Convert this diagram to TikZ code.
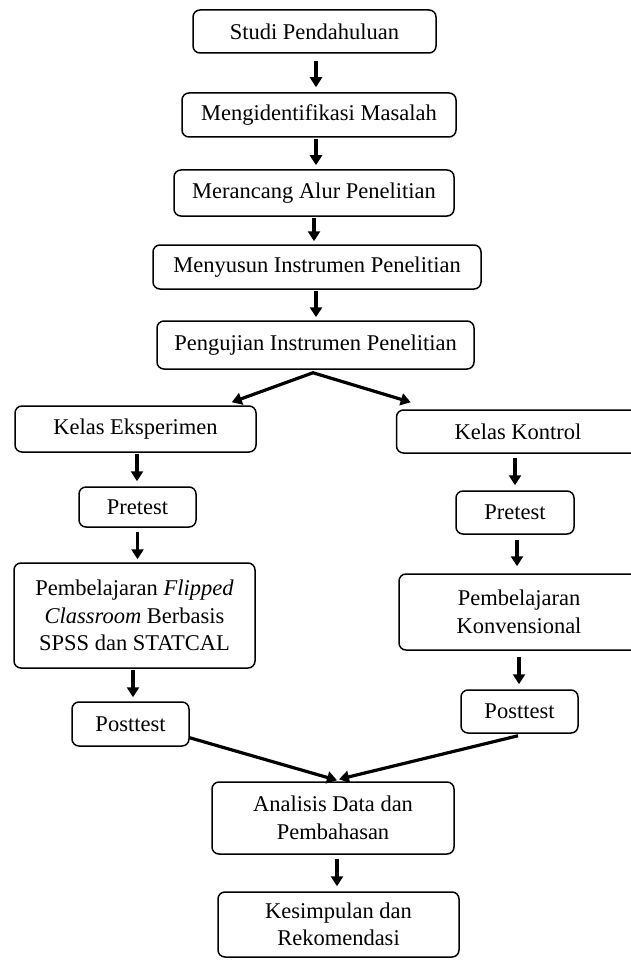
\documentclass[tikz,border=0pt]{standalone}
\usepackage{fontspec}
\setmainfont{Liberation Serif}
\usetikzlibrary{arrows.meta}
\begin{document}
\begin{tikzpicture}[x=1pt,y=-1pt,
  box/.style={draw, line width=1.5pt, rounded corners=7pt, align=center, inner sep=0pt,
    font=\fontsize{22.5}{27.5}\selectfont},
  arr/.style={line width=3.2pt, -{Triangle[length=10pt,width=12pt]}},
  arrtwo/.style={line width=3.2pt, line join=miter, {Triangle[length=10pt,width=12pt]}-{Triangle[length=10pt,width=12pt]}}]
\useasboundingbox (0,0) rectangle (630,960);
\node[box, minimum width=243pt, minimum height=43pt] (b1) at (314.5,31.5) {Studi Pendahuluan};
\node[box, minimum width=274pt, minimum height=44pt] (b2) at (319,115) {Mengidentifikasi Masalah};
\node[box, minimum width=280pt, minimum height=46pt] (b3) at (314,193) {Merancang Alur Penelitian};
\node[box, minimum width=328pt, minimum height=44pt] (b4) at (317,267) {Menyusun Instrumen Penelitian};
\node[box, minimum width=317pt, minimum height=48pt] (b5) at (315.5,345) {Pengujian Instrumen Penelitian};
\node[box, minimum width=241pt, minimum height=46pt] (ke) at (135.5,429) {Kelas Eksperimen};
\node[box, minimum width=243pt, minimum height=43pt] (kk) at (518,431.5) {Kelas Kontrol};
\node[box, minimum width=117pt, minimum height=40pt] (pre1) at (137.5,507) {Pretest};
\node[box, minimum width=118pt, minimum height=43pt] (pre2) at (515,512.5) {Pretest};
\node[box, minimum width=241pt, minimum height=105pt] (fl) at (134.5,615.5) {Pembelajaran \textit{Flipped}\\\textit{Classroom} Berbasis\\SPSS dan STATCAL};
\node[box, minimum width=240pt, minimum height=76pt] (kv) at (519,612) {Pembelajaran\\Konvensional};
\node[box, minimum width=117pt, minimum height=44pt] (post1) at (130.5,724) {Posttest};
\node[box, minimum width=117pt, minimum height=43pt] (post2) at (519.5,711.5) {Posttest};
\node[box, minimum width=242pt, minimum height=72pt] (an) at (333,818) {Analisis Data dan\\Pembahasan};
\node[box, minimum width=241pt, minimum height=65pt] (ks) at (338.5,924.5) {Kesimpulan dan\\Rekomendasi};
% vertical arrows
\draw[arr] ([xshift=1.5pt,yshift=-7pt]b1.south) -- ([xshift=1.5pt,yshift=5pt]b1.south |- b2.north);
\draw[arr] ([xshift=-3pt,yshift=-1pt]b2.south) -- ([xshift=-3pt,yshift=4pt]b2.south |- b3.north);
\draw[arr] ([yshift=-1pt]b3.south) -- ([yshift=3pt]b3.south |- b4.north);
\draw[arr] ([xshift=-1pt,yshift=-1pt]b4.south) -- ([xshift=-1pt,yshift=3pt]b4.south |- b5.north);
% split
\coordinate (apex) at ([xshift=-2.5pt,yshift=-3pt]b5.south);
\draw[arrtwo] ([xshift=-25pt,yshift=3pt]ke.north east) -- (apex) -- ([xshift=15pt,yshift=7pt]kk.north west);
% left column
\draw[arr] ([xshift=1.5pt,yshift=-1pt]ke.south) -- ([xshift=1.5pt,yshift=5pt]ke.south |- pre1.north);
\draw[arr] ([yshift=-4pt]pre1.south) -- ([yshift=3pt]pre1.south |- fl.north);
\draw[arr] ([xshift=-1.5pt,yshift=-1pt]fl.south) -- ([xshift=-1.5pt,yshift=4pt]fl.south |- post1.north);
% right column
\draw[arr] ([xshift=-3pt,yshift=-4pt]kk.south) -- ([xshift=-3pt,yshift=5pt]kk.south |- pre2.north);
\draw[arr] ([xshift=2pt,yshift=-5pt]pre2.south) -- ([xshift=2pt,yshift=7pt]pre2.south |- kv.north);
\draw[arr] ([yshift=-6pt]kv.south) -- ([yshift=5pt]kv.south |- post2.north);
% converge
\draw[arr] ([yshift=9pt]post1.south east) -- ([xshift=4pt,yshift=1pt]an.north);
\draw[arr] ([xshift=-1.5pt,yshift=-2pt]post2.south) -- ([xshift=6pt,yshift=2pt]an.north);
\draw[arr] ([xshift=4pt,yshift=-4pt]an.south) -- ([xshift=4pt,yshift=5pt]an.south |- ks.north);
\end{tikzpicture}
\end{document}
